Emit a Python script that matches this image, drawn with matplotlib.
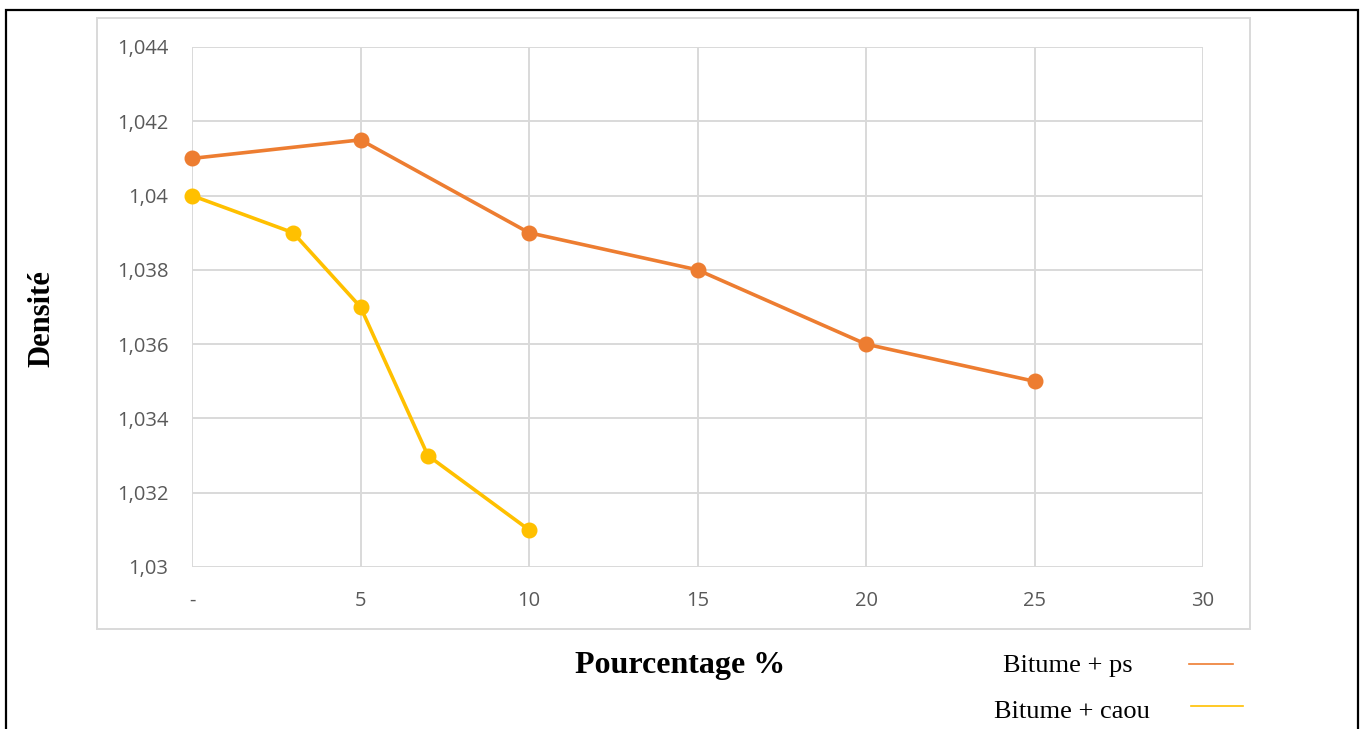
import matplotlib
matplotlib.use("Agg")
import matplotlib.pyplot as plt
from matplotlib.patches import Rectangle
from matplotlib.lines import Line2D

# Data
pct_ps = [0, 5, 10, 15, 20, 25]
dens_ps = [1.041, 1.0415, 1.039, 1.038, 1.036, 1.035]
pct_caou = [0, 3, 5, 7, 10]
dens_caou = [1.040, 1.039, 1.037, 1.033, 1.031]
x_ticks = [0, 5, 10, 15, 20, 25, 30]
x_tick_labels = ["-", "5", "10", "15", "20", "25", "30"]
y_ticks = [1.030, 1.032, 1.034, 1.036, 1.038, 1.040, 1.042, 1.044]
y_tick_labels = ["1,03", "1,032", "1,034", "1,036", "1,038", "1,04", "1,042", "1,044"]

ORANGE = "#ED7D31"
YELLOW = "#FFC000"
GRID = "#D9D9D9"
TICK = "#595959"

W, H = 1366, 729
fig = plt.figure(figsize=(W / 100, H / 100), dpi=100)

def fx(px):
    return px / W

def fy(py):
    return 1 - py / H

# outer black frame (runs past the bottom edge)
fig.patches.append(Rectangle((fx(6), fy(760)), fx(1358) - fx(6), fy(10) - fy(760),
                             transform=fig.transFigure, fill=False,
                             edgecolor="black", linewidth=1.6))
# chart area frame
fig.patches.append(Rectangle((fx(97), fy(629)), fx(1250) - fx(97), fy(18) - fy(629),
                             transform=fig.transFigure, fill=False,
                             edgecolor=GRID, linewidth=1.4))

ax = fig.add_axes([fx(192), fy(567), fx(1203) - fx(192), fy(47) - fy(567)])
ax.plot(pct_ps, dens_ps, color=ORANGE, linewidth=2.6, marker="o",
        markersize=10.5, zorder=3, clip_on=False)
ax.plot(pct_caou, dens_caou, color=YELLOW, linewidth=2.6, marker="o",
        markersize=10.5, zorder=3, clip_on=False)

ax.set_xlim(0, 30)
ax.set_ylim(1.030, 1.044)
ax.set_xticks(x_ticks)
ax.set_xticklabels(x_tick_labels)
ax.set_yticks(y_ticks)
ax.set_yticklabels(y_tick_labels)
ax.grid(True, color=GRID, linewidth=1.4)
ax.set_axisbelow(True)
for s in ax.spines.values():
    s.set_visible(False)
ax.tick_params(length=0, labelsize=14.5, labelcolor=TICK)
for lab in ax.get_xticklabels() + ax.get_yticklabels():
    lab.set_family("Open Sans")
ax.tick_params(axis="x", pad=17)
ax.tick_params(axis="y", pad=17)

fig.text(fx(42), fy(319), "Densité", rotation=90, ha="center", va="center",
         fontsize=22, fontweight="bold", family="Liberation Serif")
fig.text(fx(680), fy(665), "Pourcentage %", ha="center", va="center",
         fontsize=23, fontweight="bold", family="Liberation Serif")

# legend entries
fig.text(fx(1068), fy(666), "Bitume + ps", ha="center", va="center",
         fontsize=19, family="Liberation Serif")
fig.text(fx(1072), fy(712), "Bitume + caou", ha="center", va="center",
         fontsize=19, family="Liberation Serif")
fig.lines.append(Line2D([fx(1189), fx(1233)], [fy(664), fy(664)],
                        transform=fig.transFigure, color=ORANGE, linewidth=1.2))
fig.lines.append(Line2D([fx(1191), fx(1243)], [fy(706), fy(706)],
                        transform=fig.transFigure, color=YELLOW, linewidth=1.2))

fig.savefig("out.png", dpi=100)
